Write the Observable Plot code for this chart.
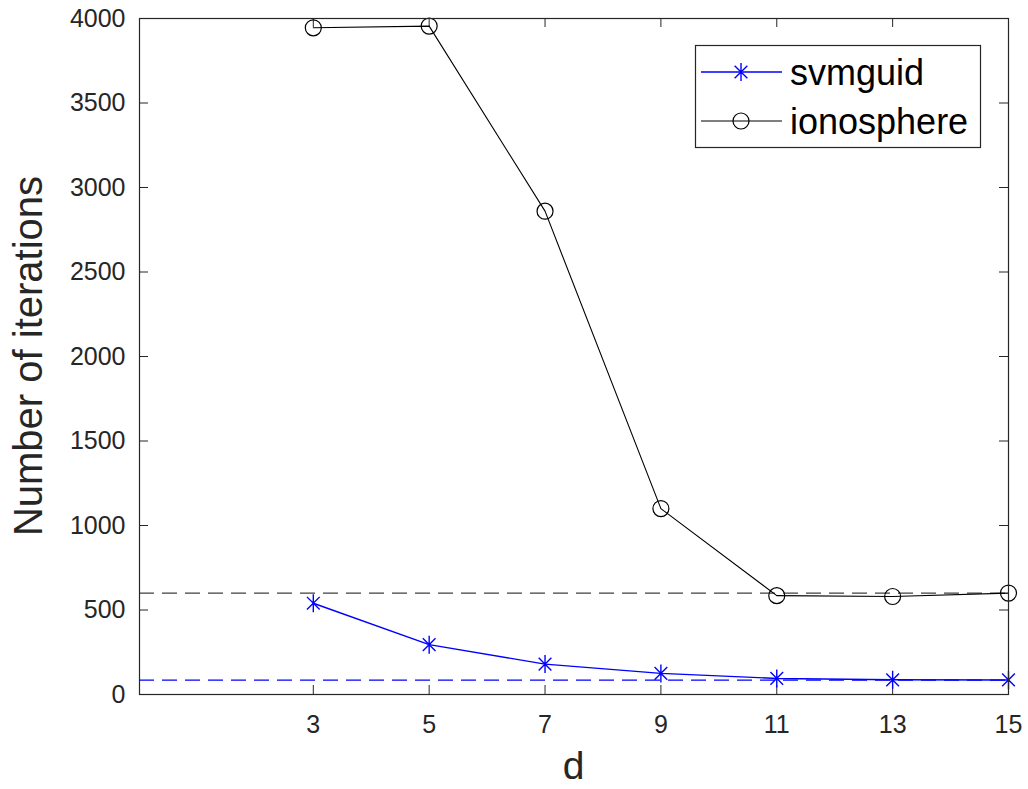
<!DOCTYPE html>
<html>
<head>
<meta charset="utf-8">
<script src="https://cdn.jsdelivr.net/npm/d3@7"></script>
<script src="https://cdn.jsdelivr.net/npm/@observablehq/plot@0.6"></script>
<style>
  html, body { margin: 0; padding: 0; background: #fff; }
  #chart { width: 1028px; height: 789px; }
</style>
</head>
<body>
<div id="chart"></div>
<script>
// ---- data ----
const dValues = [3, 5, 7, 9, 11, 13, 15];
const svmguid = [540, 295, 180, 125, 95, 87, 86];
const ionosphere = [3945, 3955, 2860, 1100, 585, 580, 600];
const svmguidRef = [85];
const ionosphereRef = [600];
const xTicks = [3, 5, 7, 9, 11, 13, 15];
const yTicks = [0, 500, 1000, 1500, 2000, 2500, 3000, 3500, 4000];
const seriesNames = ["svmguid", "ionosphere"];
const xLabel = "d";
const yLabel = "Number of iterations";

const svmRows = dValues.map((d, i) => ({d, v: svmguid[i]}));
const ionoRows = dValues.map((d, i) => ({d, v: ionosphere[i]}));

// MATLAB-like asterisk: vertical and two diagonals (horizontal given by the line)
const matlabStar = {
  draw(ctx, size) {
    const r = Math.sqrt(size / Math.PI);
    const q = r * Math.SQRT1_2;
    ctx.moveTo(0, -r); ctx.lineTo(0, r);
    ctx.moveTo(-q, -q); ctx.lineTo(q, q);
    ctx.moveTo(-q, q); ctx.lineTo(q, -q);
  }
};

const W = 1028, H = 789;
const mL = 139, mR = 20, mT = 18, mB = 95;
const innerW = W - mL - mR, innerH = H - mT - mB;
const tickLen = 9;
const axisColor = "#262626";
const font = "'Liberation Sans', Arial, Helvetica, sans-serif";

const chart = Plot.plot({
  width: W,
  height: H,
  marginLeft: mL,
  marginRight: mR,
  marginTop: mT,
  marginBottom: mB,
  style: {fontFamily: font, fontSize: "25px", color: axisColor, background: "#fff"},
  x: {domain: [0, 15], ticks: xTicks, label: null, tickFormat: d3.format("d")},
  y: {domain: [0, 4000], ticks: yTicks, label: null, tickFormat: d3.format("d")},
  marks: [
    // inward ticks (left, right, bottom, top)
    Plot.gridY(yTicks, {stroke: axisColor, strokeOpacity: 1, insetRight: innerW - tickLen}),
    Plot.gridY(yTicks, {stroke: axisColor, strokeOpacity: 1, insetLeft: innerW - tickLen}),
    Plot.gridX(xTicks, {stroke: axisColor, strokeOpacity: 1, insetTop: innerH - tickLen}),
    Plot.gridX(xTicks, {stroke: axisColor, strokeOpacity: 1, insetBottom: innerH - tickLen}),
    Plot.axisY({ticks: yTicks, tickSize: 0, tickPadding: 14, label: null, tickFormat: d3.format("d")}),
    Plot.axisX({ticks: xTicks, tickSize: 0, tickPadding: 21, label: null, tickFormat: d3.format("d")}),
    // reference lines
    Plot.ruleY(ionosphereRef, {stroke: "#404040", strokeWidth: 1.4, strokeDasharray: "15,8"}),
    Plot.ruleY(svmguidRef, {stroke: "#0000ff", strokeWidth: 1.4, strokeDasharray: "15,8"}),
    // series
    Plot.line(ionoRows, {x: "d", y: "v", stroke: "#000", strokeWidth: 1.1}),
    Plot.dot(ionoRows, {x: "d", y: "v", r: 8, stroke: "#000", strokeWidth: 1.2, fill: "none"}),
    Plot.line(svmRows, {x: "d", y: "v", stroke: "#0000ff", strokeWidth: 1.4}),
    Plot.dot(svmRows, {x: "d", y: "v", r: 9, symbol: matlabStar, stroke: "#0000ff", strokeWidth: 1.4, fill: "none"}),
    Plot.frame({stroke: axisColor, strokeWidth: 1.2})
  ]
});

document.getElementById("chart").appendChild(chart);

// axis titles and legend
const svg = d3.select(chart);

svg.append("text")
  .attr("transform", `translate(42, ${mT + innerH / 2}) rotate(-90)`)
  .attr("text-anchor", "middle")
  .attr("font-family", font)
  .attr("font-size", 40)
  .attr("fill", axisColor)
  .text(yLabel);

svg.append("text")
  .attr("x", mL + innerW / 2)
  .attr("y", 779)
  .attr("text-anchor", "middle")
  .attr("font-family", font)
  .attr("font-size", 39)
  .attr("fill", axisColor)
  .text(xLabel);

const lg = svg.append("g");
lg.append("rect")
  .attr("x", 695.5).attr("y", 45.5)
  .attr("width", 285).attr("height", 102)
  .attr("fill", "#fff").attr("stroke", axisColor).attr("stroke-width", 1.2);

const rowsY = [72, 121];
const colors = ["#0000ff", "#000"];
seriesNames.forEach((name, i) => {
  const y = rowsY[i];
  lg.append("line")
    .attr("x1", 701).attr("x2", 782).attr("y1", y).attr("y2", y)
    .attr("stroke", colors[i]).attr("stroke-width", i === 0 ? 1.4 : 1.1);
  if (i === 0) {
    const p = d3.path();
    matlabStar.draw(p, Math.PI * 81);
    lg.append("path").attr("d", p.toString())
      .attr("transform", `translate(741, ${y})`)
      .attr("stroke", colors[i]).attr("stroke-width", 1.4).attr("fill", "none");
  } else {
    lg.append("circle").attr("cx", 741).attr("cy", y).attr("r", 8)
      .attr("stroke", colors[i]).attr("stroke-width", 1.2).attr("fill", "none");
  }
  lg.append("text")
    .attr("x", 790).attr("y", y)
    .attr("dy", "0.35em")
    .attr("text-anchor", "start")
    .attr("font-family", font)
    .attr("font-size", 36)
    .attr("fill", "#000")
    .text(name);
});
</script>
</body>
</html>
